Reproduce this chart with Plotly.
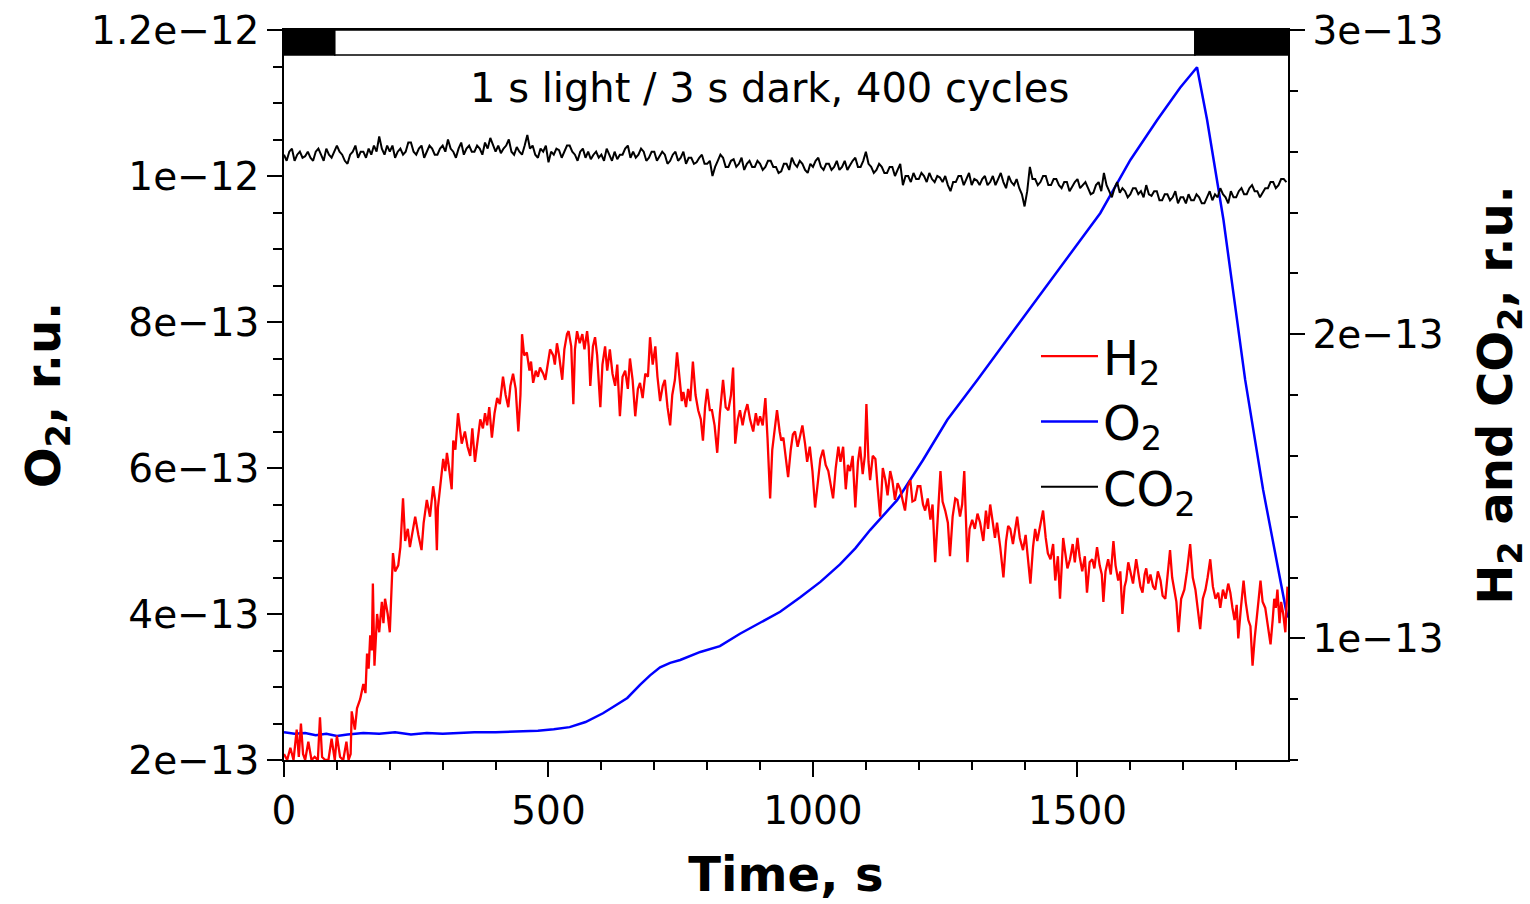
import plotly.graph_objects as go

# ---------------- data ----------------
# H2 signal (right axis, units of 1e-13 r.u.)
H2_TIME = [0, 6, 12, 18, 24, 28, 32, 36, 40, 46, 52, 58, 64, 68, 72, 78, 84, 90, 96, 100, 106, 112, 118, 122, 126,
           128, 134, 138, 144, 150, 154, 157, 160, 163, 166, 168, 171, 176, 180, 185, 188, 191, 196, 200, 203, 206,
           210, 216, 220, 225, 229, 234, 238, 243, 248, 254, 260, 264, 270, 276, 282, 286, 289, 291, 296, 301, 305,
           308, 312, 317, 320, 324, 329, 333, 336, 342, 347, 352, 356, 361, 366, 371, 376, 380, 384, 388, 393, 398,
           403, 408, 414, 419, 424, 428, 433, 438, 443, 447, 450, 454, 459, 464, 467, 471, 476, 480, 484, 490, 494,
           497, 503, 509, 512, 516, 520, 526, 530, 535, 538, 543, 547, 550, 554, 559, 564, 568, 573, 576, 579, 584,
           588, 592, 598, 602, 607, 611, 616, 621, 626, 630, 635, 640, 645, 650, 654, 659, 664, 669, 673, 678, 683,
           688, 692, 697, 702, 706, 711, 716, 720, 725, 730, 734, 739, 743, 748, 752, 755, 760, 764, 768, 773, 778,
           783, 788, 792, 796, 800, 805, 809, 814, 819, 824, 830, 835, 840, 845, 849, 853, 858, 862, 867, 871, 876,
           881, 887, 892, 896, 900, 905, 910, 914, 919, 923, 928, 932, 937, 940, 944, 949, 953, 958, 962, 966, 971,
           975, 980, 985, 989, 994, 999, 1004, 1009, 1014, 1019, 1024, 1029, 1034, 1038, 1043, 1048, 1052, 1057,
           1062, 1066, 1070, 1075, 1080, 1085, 1089, 1094, 1098, 1101, 1105, 1108, 1113, 1118, 1122, 1127, 1132,
           1137, 1141, 1146, 1150, 1155, 1160, 1165, 1170, 1174, 1179, 1184, 1188, 1193, 1198, 1203, 1208, 1212,
           1217, 1222, 1226, 1231, 1236, 1241, 1245, 1250, 1255, 1259, 1264, 1269, 1273, 1278, 1282, 1286, 1292,
           1296, 1301, 1306, 1311, 1316, 1322, 1327, 1331, 1335, 1340, 1344, 1348, 1354, 1360, 1365, 1369, 1373,
           1378, 1382, 1386, 1391, 1397, 1402, 1406, 1411, 1416, 1420, 1424, 1429, 1435, 1440, 1444, 1449, 1454,
           1458, 1463, 1467, 1473, 1477, 1481, 1486, 1491, 1495, 1500, 1504, 1509, 1514, 1518, 1523, 1528, 1532,
           1537, 1542, 1546, 1549, 1553, 1558, 1563, 1568, 1572, 1577, 1581, 1585, 1589, 1592, 1596, 1600, 1605,
           1611, 1616, 1619, 1623, 1627, 1630, 1634, 1638, 1643, 1647, 1652, 1657, 1661, 1666, 1670, 1675, 1679,
           1683, 1687, 1691, 1696, 1702, 1707, 1713, 1718, 1723, 1727, 1732, 1737, 1742, 1746, 1751, 1756, 1761,
           1766, 1770, 1775, 1780, 1785, 1789, 1793, 1797, 1801, 1804, 1809, 1814, 1818, 1823, 1827, 1831, 1835,
           1838, 1842, 1846, 1850, 1855, 1860, 1865, 1869, 1872, 1875, 1878, 1882, 1885, 1889, 1893, 1897]
H2_VALUE = [0.62, 0.60, 0.64, 0.60, 0.70, 0.61, 0.72, 0.62, 0.60, 0.66, 0.60, 0.61, 0.60, 0.74, 0.61, 0.60, 0.60, 0.67,
            0.60, 0.68, 0.61, 0.60, 0.66, 0.60, 0.62,
            0.76, 0.70, 0.77, 0.80, 0.85, 0.82, 0.95, 0.90, 1.01, 0.96, 1.18, 0.91, 1.08, 1.02, 1.12, 1.05, 1.13, 1.08,
            1.02, 1.15, 1.28, 1.22, 1.24, 1.30, 1.46, 1.32, 1.36, 1.30, 1.35, 1.40, 1.34, 1.29, 1.38, 1.455, 1.40,
            1.50, 1.45, 1.29, 1.43, 1.52, 1.59, 1.55, 1.61, 1.56, 1.49, 1.65, 1.62, 1.74, 1.68, 1.64, 1.68, 1.63,
            1.60, 1.69, 1.58, 1.66, 1.72, 1.69, 1.74, 1.70, 1.76, 1.66, 1.74, 1.79, 1.77, 1.86, 1.80, 1.76, 1.83,
            1.87, 1.82, 1.68, 1.80, 2.00, 1.93, 1.94, 1.88, 1.91, 1.84, 1.88, 1.86, 1.89, 1.87, 1.85, 1.88, 1.95,
            1.93, 1.90, 1.97, 1.93, 1.85, 1.95, 2.00, 2.01, 1.96, 1.77, 1.95, 2.01, 1.97, 2.00, 1.95, 2.01, 1.96,
            1.83, 1.96, 1.99, 1.93, 1.76, 1.90, 1.96, 1.88, 1.95, 1.87, 1.83, 1.90, 1.73, 1.86, 1.88, 1.82, 1.92,
            1.85, 1.73, 1.82, 1.84, 1.79, 1.87, 1.86, 1.99, 1.90, 1.96, 1.86, 1.78, 1.83, 1.85, 1.76, 1.70, 1.80,
            1.85, 1.94, 1.84, 1.78, 1.81, 1.76, 1.82, 1.78, 1.91, 1.80, 1.75, 1.72, 1.65, 1.76, 1.82, 1.75, 1.75,
            1.70, 1.61, 1.74, 1.85, 1.76, 1.75, 1.80, 1.89, 1.64, 1.72, 1.75, 1.70, 1.74, 1.77, 1.72, 1.68, 1.74,
            1.70, 1.73, 1.70, 1.79, 1.66, 1.46, 1.62, 1.70, 1.75, 1.68, 1.65, 1.66, 1.58, 1.53, 1.62, 1.67, 1.68,
            1.63, 1.66, 1.70, 1.64, 1.58, 1.63, 1.55, 1.43, 1.52, 1.59, 1.62, 1.57, 1.55, 1.50, 1.46, 1.56, 1.63,
            1.58, 1.63, 1.49, 1.57, 1.55, 1.60, 1.43, 1.58, 1.63, 1.54, 1.60, 1.77, 1.58, 1.52, 1.60, 1.59, 1.50,
            1.40, 1.56, 1.52, 1.47, 1.55, 1.52, 1.455, 1.51, 1.49, 1.45, 1.42, 1.50, 1.52, 1.45, 1.455, 1.50, 1.50,
            1.44, 1.42, 1.46, 1.39, 1.44, 1.25, 1.40, 1.55, 1.45, 1.42, 1.38, 1.27, 1.40, 1.46, 1.455, 1.40, 1.44,
            1.55, 1.25, 1.36, 1.39, 1.36, 1.41, 1.38, 1.32, 1.42, 1.36, 1.44, 1.38, 1.33, 1.38, 1.30, 1.20, 1.32,
            1.37, 1.36, 1.31, 1.35, 1.40, 1.33, 1.29, 1.34, 1.27, 1.18, 1.30, 1.36, 1.32, 1.37, 1.42, 1.33, 1.28,
            1.26, 1.31, 1.19, 1.27, 1.13, 1.33, 1.28, 1.23, 1.26, 1.31, 1.25, 1.33, 1.27, 1.22, 1.27, 1.15, 1.25,
            1.26, 1.23, 1.30, 1.24, 1.21, 1.12, 1.22, 1.26, 1.21, 1.32, 1.24, 1.19, 1.22, 1.08, 1.17, 1.19, 1.25,
            1.22, 1.18, 1.26, 1.20, 1.17, 1.15, 1.21, 1.23, 1.18, 1.21, 1.17, 1.16, 1.22, 1.19, 1.14, 1.13, 1.20,
            1.29, 1.20, 1.16, 1.12, 1.02, 1.13, 1.16, 1.22, 1.31, 1.20, 1.16, 1.10, 1.03, 1.13, 1.16, 1.20, 1.26,
            1.17, 1.13, 1.15, 1.10, 1.16, 1.13, 1.18, 1.15, 1.10, 1.06, 1.11, 1.00, 1.10, 1.19, 1.12, 1.06, 1.04,
            0.91, 1.00, 1.06, 1.12, 1.19, 1.12, 1.10, 1.04, 0.98, 1.06, 1.13, 1.10, 1.16, 1.05, 1.12, 1.08, 1.02,
            1.17]

# O2 signal (left axis, units of 1e-13 r.u.)
O2_TIME = [0, 20, 40, 60, 80, 100, 120, 150, 180, 210, 240, 270, 300, 330, 360, 400, 440, 480, 510, 540, 570,
           603, 625, 649, 673, 692, 711, 730, 749, 787, 824, 862, 900, 938, 976, 1014, 1051, 1080, 1108, 1159,
           1208, 1254, 1311, 1354, 1411, 1467, 1543, 1600, 1651, 1694, 1726, 1745, 1776, 1817, 1851, 1897]
O2_VALUE = [2.38, 2.36, 2.37, 2.34, 2.36, 2.33, 2.35, 2.37, 2.36, 2.38, 2.35, 2.37, 2.36, 2.37, 2.38, 2.38, 2.39,
            2.40, 2.42, 2.45, 2.52, 2.64, 2.74, 2.85, 3.03, 3.16, 3.27, 3.33, 3.37, 3.48, 3.56, 3.73, 3.88, 4.03,
            4.23, 4.44, 4.68, 4.90, 5.15, 5.56, 6.11, 6.66, 7.21, 7.63, 8.19, 8.75, 9.49, 10.22, 10.77, 11.21,
            11.49, 10.77, 9.40, 7.21, 5.70, 3.95]

# CO2 signal (right axis, units of 1e-13 r.u.), sampled every 5 s from t = 0
CO2_STEP = 5
CO2_VALUE = [
    2.59, 2.57, 2.60, 2.61, 2.57, 2.59, 2.60, 2.58, 2.585, 2.60, 2.58, 2.57, 2.60, 2.61, 2.59, 2.57, 2.61, 2.59, 2.58, 2.60,
    2.62, 2.60, 2.59, 2.57, 2.56, 2.59, 2.60, 2.62, 2.58, 2.60, 2.60, 2.58, 2.61, 2.59, 2.62, 2.60, 2.65, 2.61, 2.59, 2.62,
    2.60, 2.62, 2.58, 2.60, 2.61, 2.59, 2.60, 2.63, 2.63, 2.60, 2.59, 2.61, 2.62, 2.58, 2.60, 2.62, 2.61, 2.59, 2.59, 2.61,
    2.62, 2.60, 2.64, 2.61, 2.60, 2.58, 2.61, 2.63, 2.59, 2.61, 2.62, 2.60, 2.60, 2.62, 2.61, 2.59, 2.63, 2.61, 2.645, 2.62,
    2.60, 2.62, 2.595, 2.61, 2.62, 2.64, 2.60, 2.59, 2.615, 2.60, 2.59, 2.62, 2.655, 2.61, 2.62, 2.59, 2.58, 2.61, 2.60, 2.62,
    2.565, 2.60, 2.59, 2.61, 2.605, 2.58, 2.60, 2.62, 2.62, 2.60, 2.59, 2.57, 2.60, 2.61, 2.58, 2.60, 2.575, 2.59, 2.60, 2.58,
    2.59, 2.57, 2.61, 2.59, 2.57, 2.60, 2.575, 2.59, 2.59, 2.61, 2.62, 2.58, 2.60, 2.58, 2.59, 2.61, 2.60, 2.57, 2.58, 2.60,
    2.60, 2.57, 2.585, 2.60, 2.59, 2.56, 2.57, 2.59, 2.60, 2.57, 2.58, 2.60, 2.56, 2.58, 2.58, 2.56, 2.565, 2.58, 2.59, 2.56,
    2.56, 2.57, 2.52, 2.55, 2.57, 2.59, 2.58, 2.55, 2.55, 2.57, 2.575, 2.55, 2.56, 2.58, 2.54, 2.56, 2.57, 2.55, 2.55, 2.57,
    2.56, 2.54, 2.55, 2.57, 2.57, 2.55, 2.55, 2.53, 2.535, 2.56, 2.56, 2.54, 2.58, 2.56, 2.55, 2.57, 2.56, 2.54, 2.53, 2.56,
    2.55, 2.57, 2.58, 2.55, 2.54, 2.56, 2.56, 2.54, 2.55, 2.57, 2.54, 2.55, 2.57, 2.54, 2.555, 2.57, 2.58, 2.55, 2.55, 2.57,
    2.60, 2.56, 2.55, 2.53, 2.54, 2.56, 2.55, 2.53, 2.53, 2.55, 2.55, 2.52, 2.54, 2.56, 2.49, 2.52, 2.52, 2.50, 2.53, 2.51,
    2.51, 2.53, 2.52, 2.50, 2.53, 2.51, 2.50, 2.52, 2.515, 2.50, 2.52, 2.49, 2.47, 2.50, 2.50, 2.52, 2.52, 2.49, 2.51, 2.53,
    2.49, 2.51, 2.505, 2.49, 2.51, 2.52, 2.49, 2.50, 2.52, 2.49, 2.51, 2.53, 2.50, 2.48, 2.52, 2.50, 2.49, 2.51, 2.48, 2.46,
    2.42, 2.47, 2.55, 2.51, 2.51, 2.49, 2.50, 2.52, 2.52, 2.49, 2.49, 2.51, 2.51, 2.49, 2.48, 2.50, 2.50, 2.47, 2.485, 2.50,
    2.51, 2.48, 2.49, 2.50, 2.48, 2.46, 2.465, 2.49, 2.50, 2.47, 2.53, 2.49, 2.47, 2.45, 2.48, 2.50, 2.465, 2.48, 2.47, 2.45,
    2.46, 2.48, 2.48, 2.46, 2.47, 2.45, 2.49, 2.46, 2.455, 2.47, 2.47, 2.44, 2.44, 2.46, 2.46, 2.44, 2.45, 2.47, 2.43, 2.45,
    2.45, 2.43, 2.46, 2.44, 2.44, 2.46, 2.45, 2.43, 2.43, 2.45, 2.47, 2.44, 2.46, 2.45, 2.48, 2.46, 2.45, 2.43, 2.47, 2.45,
    2.45, 2.47, 2.48, 2.46, 2.46, 2.48, 2.49, 2.47, 2.47, 2.45, 2.465, 2.48, 2.48, 2.50, 2.50, 2.48, 2.49, 2.51, 2.51, 2.50,
]
CO2_TIME = [CO2_STEP * i for i in range(len(CO2_VALUE))]

UNIT = 1e-13

# light regime bar: dark / light / dark periods (s)
BAR_EDGES = [0, 96, 1722, 1898]
BAR_FILLS = ["black", "white", "black"]

# axis ticks
X_TICKS = [0, 500, 1000, 1500]
Y_TICKS = [2e-13, 4e-13, 6e-13, 8e-13, 1e-12, 1.2e-12]
Y_TICK_TEXT = ["2e\u221213", "4e\u221213", "6e\u221213", "8e\u221213", "1e\u221212", "1.2e\u221212"]
Y2_TICKS = [1e-13, 2e-13, 3e-13]
Y2_TICK_TEXT = ["1e\u221213", "2e\u221213", "3e\u221213"]

X_RANGE = [0, 1898]
Y_RANGE = [2e-13, 1.2e-12]
Y2_RANGE = [0.6e-13, 3e-13]

# ---------------- figure ----------------
FONT = "DejaVu Sans"
fig = go.Figure()

fig.add_trace(go.Scatter(x=H2_TIME, y=[v * UNIT for v in H2_VALUE], mode="lines",
                         name="H<sub>2</sub>", line=dict(color="#ff0000", width=2.3), yaxis="y2"))
fig.add_trace(go.Scatter(x=O2_TIME, y=[v * UNIT for v in O2_VALUE], mode="lines",
                         name="O<sub>2</sub>", line=dict(color="#0000ff", width=2.5), yaxis="y"))
fig.add_trace(go.Scatter(x=CO2_TIME, y=[v * UNIT for v in CO2_VALUE], mode="lines",
                         name="CO<sub>2</sub>", line=dict(color="black", width=2), yaxis="y2"))

bar_bottom = 0.9658
for i, fill in enumerate(BAR_FILLS):
    fig.add_shape(type="rect", xref="x", yref="paper", x0=BAR_EDGES[i], x1=BAR_EDGES[i + 1],
                  y0=bar_bottom, y1=1.0, fillcolor=fill, line=dict(color="black", width=1.5), layer="above")

fig.add_annotation(x=917, y=0.9205, xref="x", yref="paper", text="1 s light / 3 s dark, 400 cycles",
                   showarrow=False, yanchor="middle", xanchor="center",
                   font=dict(family=FONT, size=40, color="black"))

tick_font = dict(family=FONT, size=39, color="black")
title_font = dict(family=FONT, size=48, color="black", weight="bold")

fig.update_layout(
    width=1530, height=904,
    margin=dict(l=284, r=242, t=30, b=144, autoexpand=False),
    paper_bgcolor="white", plot_bgcolor="white",
    showlegend=True,
    legend=dict(x=0.749, y=0.605, xanchor="left", yanchor="top", bgcolor="rgba(0,0,0,0)",
                font=dict(family=FONT, size=48, color="black"), itemwidth=57, tracegroupgap=0),
    xaxis=dict(range=X_RANGE, tickvals=X_TICKS, ticks="outside", ticklen=15, tickwidth=1.5,
               tickcolor="black", showline=True, linecolor="black", linewidth=1.5, mirror=True,
               showgrid=False, zeroline=False, tickfont=tick_font, automargin=False,
               minor=dict(dtick=100, tick0=0, ticks="outside", ticklen=8, tickwidth=1.5, tickcolor="black",
                          showgrid=False),
               title=dict(text="Time, s", font=title_font, standoff=26)),
    yaxis=dict(range=Y_RANGE, tickvals=Y_TICKS, ticktext=Y_TICK_TEXT, ticks="outside", ticklen=15,
               tickwidth=1.5, tickcolor="black", showline=True, linecolor="black", linewidth=1.5,
               showgrid=False, zeroline=False, tickfont=tick_font, automargin=False,
               ticklabeloverflow="allow",
               minor=dict(dtick=5e-14, tick0=2e-13, ticks="outside", ticklen=9, tickwidth=1.5,
                          tickcolor="black", showgrid=False),
               title=dict(text="O<sub>2</sub>, r.u.", font=title_font, standoff=15)),
    yaxis2=dict(range=Y2_RANGE, tickvals=Y2_TICKS, ticktext=Y2_TICK_TEXT, ticks="outside", ticklen=15,
                tickwidth=1.5, tickcolor="black", showline=True, linecolor="black", linewidth=1.5,
                showgrid=False, zeroline=False, tickfont=tick_font, overlaying="y", side="right",
                automargin=False, ticklabeloverflow="allow",
                minor=dict(dtick=2e-14, tick0=0, ticks="outside", ticklen=8, tickwidth=1.5,
                           tickcolor="black", showgrid=False),
                title=dict(text="H<sub>2</sub> and CO<sub>2</sub>, r.u.", font=title_font, standoff=36)),
)

# the page should show the figure flush with the window edges (no default body margin)
fig.write_html("out.html", config={"displayModeBar": False},
               post_script="document.body.style.margin='0';")
